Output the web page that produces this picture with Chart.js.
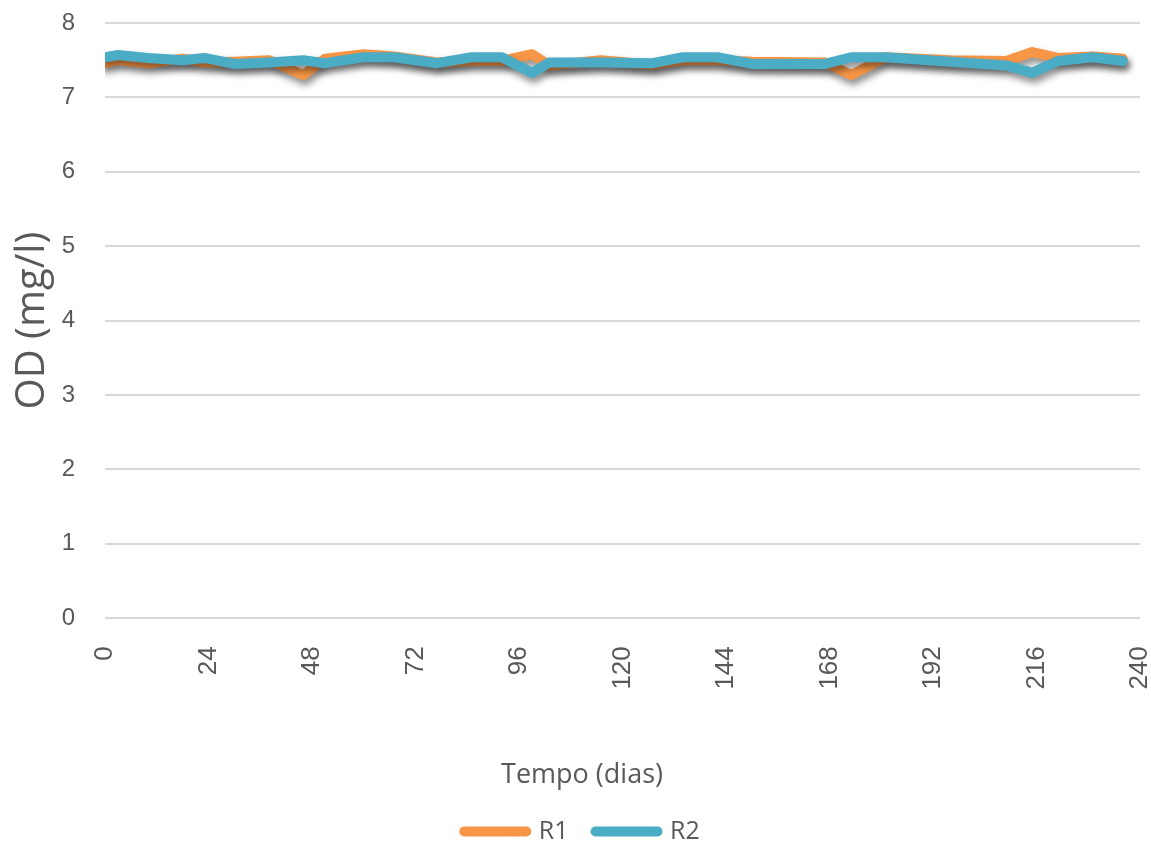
<!DOCTYPE html>
<html>
<head>
<meta charset="utf-8">
<script src="https://cdn.jsdelivr.net/npm/chart.js@4/dist/chart.umd.min.js"></script>
<style>
  html, body { margin: 0; padding: 0; background: #fff; }
  #wrap { width: 1151px; height: 846px; }
</style>
</head>
<body>
<div id="wrap"><canvas id="grafico"></canvas></div>
<script>
// dias de medição
const dias = [0, 3, 10, 18, 23, 30, 38, 46, 51, 60, 67, 77, 85, 92, 99, 103, 115, 127, 134, 142, 150, 167, 173, 181, 196, 209, 215, 221, 229, 236];
const odR1 = [7.46, 7.50, 7.46, 7.52, 7.47, 7.48, 7.50, 7.30, 7.52, 7.58, 7.55, 7.47, 7.49, 7.49, 7.58, 7.43, 7.50, 7.44, 7.50, 7.50, 7.48, 7.47, 7.30, 7.54, 7.50, 7.49, 7.61, 7.53, 7.55, 7.52];
const odR2 = [7.54, 7.57, 7.53, 7.50, 7.53, 7.45, 7.47, 7.50, 7.46, 7.54, 7.54, 7.46, 7.54, 7.54, 7.33, 7.47, 7.47, 7.46, 7.54, 7.54, 7.45, 7.45, 7.54, 7.54, 7.48, 7.43, 7.33, 7.49, 7.54, 7.49];
const serieNomes = ["R1", "R2"];
const serieCores = ["#F79646", "#4BACC6"];
const xTicks = [0, 24, 48, 72, 96, 120, 144, 168, 192, 216, 240];
const yTicks = [0, 1, 2, 3, 4, 5, 6, 7, 8];

const cinza = "#595959";
const espessura = 10;

function toPoints(xs, ys) {
  return xs.map((x, i) => ({ x: x, y: ys[i] }));
}

// sombra das linhas (estilo Excel)
const shadowPlugin = {
  id: "lineShadow",
  beforeDatasetsDraw(chart) {
    const ctx = chart.ctx;
    ctx.save();
    ctx.shadowColor = "rgba(0,0,0,0.45)";
    ctx.shadowBlur = 7;
    ctx.shadowOffsetX = 2;
    ctx.shadowOffsetY = 5;
  },
  afterDatasetsDraw(chart) {
    chart.ctx.restore();
  },
};

function serie(i, valores) {
  return {
    label: serieNomes[i],
    data: toPoints(dias, valores),
    borderColor: serieCores[i],
    backgroundColor: serieCores[i],
    borderWidth: espessura,
    borderCapStyle: "round",
    borderJoinStyle: "round",
    pointRadius: 0,
    tension: 0,
    order: 1 - i, // R2 por cima
  };
}

new Chart(document.getElementById("grafico"), {
  type: "line",
  data: {
    datasets: [serie(0, odR1), serie(1, odR2)],
  },
  options: {
    responsive: true,
    maintainAspectRatio: false,
    animation: false,
    layout: { padding: { top: 23, right: 11, left: 24, bottom: -8 } },
    plugins: {
      tooltip: { enabled: false },
      title: {
        display: true,
        position: "bottom",
        text: "Tempo (dias)",
        color: cinza,
        weight: 2000,
        padding: { top: 50, bottom: 0 },
        font: { family: "'Open Sans', sans-serif", size: 27, weight: "normal" },
      },
      legend: {
        position: "bottom",
        weight: 3000,
        labels: {
          usePointStyle: true,
          pointStyleWidth: 62,
          boxHeight: 10,
          padding: 27,
          color: cinza,
          font: { family: "'Open Sans', sans-serif", size: 25 },
          generateLabels: (chart) =>
            chart.data.datasets.map((ds, i) => ({
              text: ds.label,
              fillStyle: ds.borderColor,
              strokeStyle: ds.borderColor,
              lineWidth: espessura,
              lineCap: "round",
              pointStyle: "line",
              fontColor: cinza,
              hidden: false,
              datasetIndex: i,
            })),
        },
      },
    },
    scales: {
      x: {
        type: "linear",
        min: 0,
        max: 240,
        afterBuildTicks: (axis) => {
          axis.ticks = xTicks.map((v) => ({ value: v }));
        },
        afterFit: (axis) => {
          axis.paddingLeft = 0;
          axis.paddingRight = 0;
        },
        grid: { display: false },
        border: { display: false },
        ticks: {
          minRotation: 90,
          maxRotation: 90,
          padding: 20,
          color: cinza,
          font: { family: "'Liberation Sans', Arial, sans-serif", size: 26 },
        },
      },
      y: {
        min: 0,
        max: 8,
        afterBuildTicks: (axis) => {
          axis.ticks = yTicks.map((v) => ({ value: v }));
        },
        afterFit: (axis) => {
          axis.width = 81;
          axis.paddingTop = 0;
          axis.paddingBottom = 0;
        },
        grid: { color: "#D9D9D9", lineWidth: 2, drawTicks: false },
        border: { display: false },
        ticks: {
          padding: 30,
          color: cinza,
          font: { family: "'Liberation Sans', Arial, sans-serif", size: 24 },
        },
        title: {
          display: true,
          text: "OD (mg/l)",
          color: cinza,
          padding: { top: -15, bottom: 0 },
          font: { family: "'Open Sans', sans-serif", size: 40 },
        },
      },
    },
  },
  plugins: [shadowPlugin],
});
</script>
</body>
</html>
